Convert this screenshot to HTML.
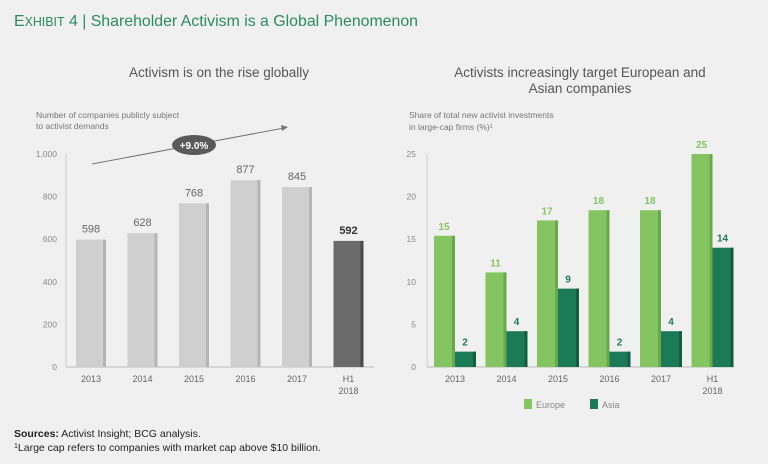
<!DOCTYPE html>
<html><head><meta charset="utf-8"><style>
body{margin:0;background:#f0f0f0;}
svg{display:block;font-family:"Liberation Sans",sans-serif;}
</style></head><body>
<svg width="768" height="464" viewBox="0 0 768 464">
<rect width="768" height="464" fill="#f0f0f0"/>
<text x="14" y="26" font-size="16" fill="#2a8a66" textLength="404" lengthAdjust="spacingAndGlyphs">E<tspan font-size="12.5">XHIBIT</tspan> 4 | Shareholder Activism is a Global Phenomenon</text>
<text x="219" y="77" font-size="13.5" fill="#555" text-anchor="middle">Activism is on the rise globally</text>
<text x="36" y="118" font-size="8.5" fill="#777">Number of companies publicly subject</text>
<text x="36" y="129" font-size="8.5" fill="#777">to activist demands</text>
<text x="580" y="77" font-size="13.5" fill="#555" text-anchor="middle">Activists increasingly target European and</text>
<text x="580" y="93" font-size="13.5" fill="#555" text-anchor="middle">Asian companies</text>
<text x="409" y="118" font-size="8.5" fill="#777">Share of total new activist investments</text>
<text x="409" y="130" font-size="8.5" fill="#777">in large-cap firms (%)¹</text>
<line x1="92" y1="164" x2="284" y2="128" stroke="#777" stroke-width="1"/>
<polygon points="288,127 281,125 282,131" fill="#777"/>
<ellipse cx="194" cy="145" rx="22" ry="10" fill="#5a5a5a"/>
<text x="194" y="149" font-size="10" fill="#fff" text-anchor="middle" font-weight="bold">+9.0%</text>
<g id="left"></g><g id="right"></g>
<rect x="524" y="399" width="8" height="10" fill="#84c561"/>
<text x="536" y="408" font-size="9" fill="#888">Europe</text>
<rect x="590" y="399" width="8" height="10" fill="#1b7a57"/>
<text x="602" y="408" font-size="9" fill="#888">Asia</text>
<text x="14" y="437" font-size="10.5" fill="#222"><tspan font-weight="bold">Sources:</tspan> Activist Insight; BCG analysis.</text>
<text x="14" y="451" font-size="10.5" fill="#222"><tspan font-size="7" dy="-3">1</tspan><tspan dy="3">Large cap refers to companies with market cap above $10 billion.</tspan></text>
</svg>
<script>
const categories=["2013","2014","2015","2016","2017","H1|2018"];
const activismValues=[598,628,768,877,845,592];
const leftTicks=[0,200,400,600,800,1000];
const europeValues=[15.4,11.1,17.2,18.4,18.4,25];
const asiaValues=[1.8,4.2,9.2,1.8,4.2,14];
const europeLabels=["15","11","17","18","18","25"];
const asiaLabels=["2","4","9","2","4","14"];
const rightTicks=[0,5,10,15,20,25];
const NS="http://www.w3.org/2000/svg";
function mk(p,t,a,txt){const e=document.createElementNS(NS,t);for(const k in a)e.setAttribute(k,a[k]);if(txt!==undefined)e.textContent=txt;p.appendChild(e);return e;}
const base=367;
function catLabel(g,cx,i){const parts=categories[i].split("|");parts.forEach((p,j)=>{const t=mk(g,"text",{x:cx,y:base+15+j*12,"font-size":9,fill:"#666","text-anchor":"middle"},p);

});}
const L=document.getElementById("left");
const ly=v=>base-v*213/1000, lx=i=>91+i*51.5;
leftTicks.forEach(v=>{const t=mk(L,"text",{x:57,y:ly(v)+3,"font-size":8.5,fill:"#888","text-anchor":"end"},v.toLocaleString("en-US"));

});
mk(L,"line",{x1:66,y1:ly(1000),x2:66,y2:base,stroke:"#ccc"});
mk(L,"line",{x1:66,y1:base,x2:374,y2:base,stroke:"#bbb"});
activismValues.forEach((v,i)=>{const last=i===activismValues.length-1;const x=lx(i)-15;
const r=mk(L,"rect",{x:x,y:ly(v),width:30,height:base-ly(v),fill:last?"#6b6b6b":"#d0cfcf"});


mk(L,"rect",{x:x+27,y:ly(v),width:3,height:base-ly(v),fill:last?"#4a4a4a":"#b5b5b5"});
const t=mk(L,"text",{x:lx(i),y:ly(v)-7,"font-size":11,fill:last?"#333":"#666","text-anchor":"middle","font-weight":last?"bold":"normal"},v);


catLabel(L,lx(i),i);});
const R=document.getElementById("right");
const ry=v=>base-v*213/25, rx=i=>455+i*51.5;
rightTicks.forEach(v=>{const t=mk(R,"text",{x:416,y:ry(v)+3,"font-size":8.5,fill:"#888","text-anchor":"end"},v);

});
mk(R,"line",{x1:427,y1:ry(25),x2:427,y2:base,stroke:"#ccc"});
mk(R,"line",{x1:427,y1:base,x2:734,y2:base,stroke:"#bbb"});
categories.forEach((c,i)=>{const cx=rx(i);
[[europeValues[i],europeLabels[i],cx-21,"#84c561","#6aa84c","europe-bar"],[asiaValues[i],asiaLabels[i],cx,"#1b7a57","#135e42","asia-bar"]].forEach(([v,lab,x,f,s,n])=>{
const r=mk(R,"rect",{x:x,y:ry(v),width:21,height:base-ry(v),fill:f});


mk(R,"rect",{x:x+18,y:ry(v),width:3,height:base-ry(v),fill:s});
const t=mk(R,"text",{x:x+10,y:ry(v)-6,"font-size":10,"font-weight":"bold",fill:n==="europe-bar"?"#84c561":"#1b7a57","text-anchor":"middle"},lab);

});
catLabel(R,cx,i);});
</script>
</body></html>
